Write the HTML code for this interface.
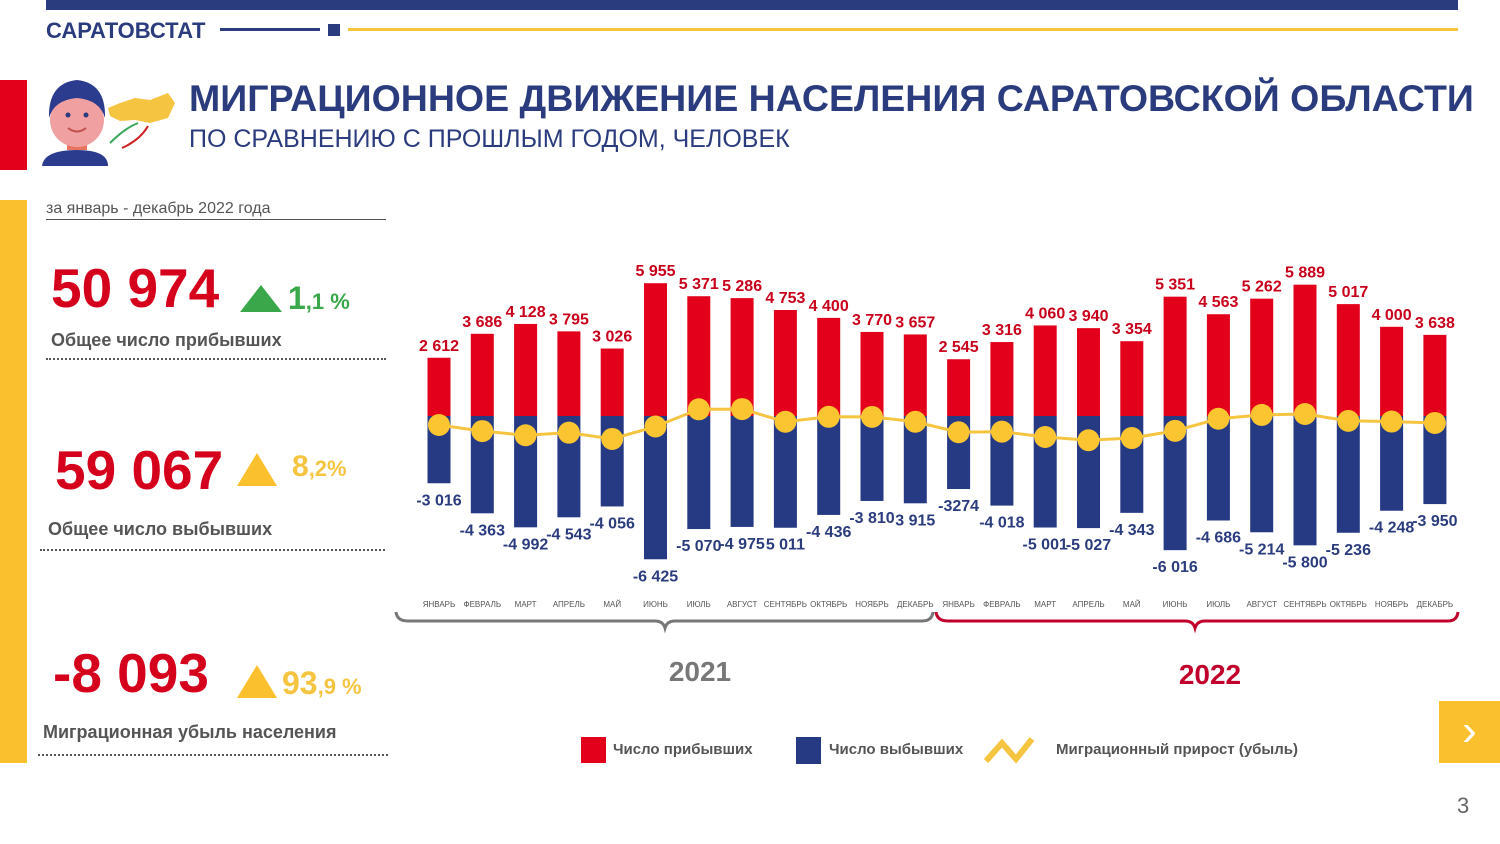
<!DOCTYPE html>
<html><head><meta charset="utf-8">
<style>
*{margin:0;padding:0;box-sizing:border-box}
body{width:1500px;height:844px;background:#fff;position:relative;overflow:hidden;font-family:"Liberation Sans","Noto Sans CJK SC",sans-serif}
.abs{position:absolute}
</style></head><body>
<div class="abs" style="left:46px;top:0;width:1412px;height:10px;background:#2b3c7e"></div>
<div class="abs" style="left:46px;top:18px;font-size:22px;font-weight:bold;color:#2b3c7e">САРАТОВСТАТ</div>
<div class="abs" style="left:220px;top:28px;width:100px;height:3px;background:#2b3c7e"></div>
<div class="abs" style="left:328px;top:24px;width:12px;height:12px;background:#2b3c7e"></div>
<div class="abs" style="left:348px;top:28px;width:1110px;height:3px;background:#f5c542"></div>
<div class="abs" style="left:0;top:80px;width:27px;height:90px;background:#e2001a"></div>
<svg class="abs" style="left:40px;top:78px" width="140" height="90" viewBox="0 0 140 90">
<rect x="27" y="60" width="20" height="12" fill="#e8735f"/>
<ellipse cx="37" cy="42" rx="27" ry="27" fill="#f0a0a0"/>
<path d="M9 40 Q8 5 37 2 Q66 5 65 40 Q60 22 37 20 Q14 22 9 40Z" fill="#2b3c8e"/>
<circle cx="28" cy="37" r="2.5" fill="#2b3c7e"/><circle cx="46" cy="37" r="2.5" fill="#2b3c7e"/>
<path d="M28 50 Q37 57 46 50" stroke="#c0504d" stroke-width="2" fill="none"/>
<path d="M2 88 Q4 72 37 72 Q68 72 68 88Z" fill="#2b3c8e"/>
<path d="M68 30 L80 25 L95 20 L110 22 L128 15 L135 25 L128 40 L110 45 L95 42 L80 43 L70 38Z" fill="#f5c542"/>
<path d="M70 65 Q85 50 98 45" stroke="#3aa85a" stroke-width="2" fill="none"/>
<path d="M108 48 Q100 62 82 70" stroke="#d02020" stroke-width="2" fill="none"/>
</svg>
<div class="abs" style="left:189px;top:77px;font-size:37.5px;font-weight:bold;color:#2b3c7e;white-space:nowrap">МИГРАЦИОННОЕ ДВИЖЕНИЕ НАСЕЛЕНИЯ САРАТОВСКОЙ ОБЛАСТИ</div>
<div class="abs" style="left:189px;top:125px;font-size:25px;color:#2b3c7e;white-space:nowrap">ПО СРАВНЕНИЮ С ПРОШЛЫМ ГОДОМ, ЧЕЛОВЕК</div>
<div class="abs" style="left:0;top:200px;width:27px;height:563px;background:#fbc02d"></div>
<div class="abs" style="left:46px;top:200px;width:340px;font-size:16px;color:#555;border-bottom:1.5px solid #555;padding-bottom:1px">за январь - декабрь 2022 года</div>

<div class="abs" style="left:51px;top:256px;font-size:55px;font-weight:bold;color:#d5001c">50 974</div>
<div class="abs" style="left:240px;top:285px;width:0;height:0;border-left:21px solid transparent;border-right:21px solid transparent;border-bottom:27px solid #3aa84a"></div>
<div class="abs" style="left:288px;top:280px;font-size:32px;font-weight:bold;color:#3aa84a">1<span style="font-size:22px">,1 %</span></div>
<div class="abs" style="left:51px;top:330px;font-size:18px;font-weight:bold;color:#555">Общее число прибывших</div>
<div class="abs" style="left:46px;top:358px;width:340px;border-top:2px dotted #555"></div>

<div class="abs" style="left:55px;top:438px;font-size:55px;font-weight:bold;color:#d5001c">59 067</div>
<div class="abs" style="left:237px;top:453px;width:0;height:0;border-left:20px solid transparent;border-right:20px solid transparent;border-bottom:33px solid #fbc02d"></div>
<div class="abs" style="left:292px;top:450px;font-size:30px;font-weight:bold;color:#f5c542">8<span style="font-size:22px">,2%</span></div>
<div class="abs" style="left:48px;top:519px;font-size:18px;font-weight:bold;color:#555">Общее число выбывших</div>
<div class="abs" style="left:40px;top:549px;width:345px;border-top:2px dotted #555"></div>

<div class="abs" style="left:53px;top:641px;font-size:55px;font-weight:bold;color:#d5001c">-8 093</div>
<div class="abs" style="left:237px;top:665px;width:0;height:0;border-left:20px solid transparent;border-right:20px solid transparent;border-bottom:33px solid #fbc02d"></div>
<div class="abs" style="left:282px;top:665px;font-size:32px;font-weight:bold;color:#f5c542">93<span style="font-size:22px">,9 %</span></div>
<div class="abs" style="left:43px;top:722px;font-size:18px;font-weight:bold;color:#555">Миграционная убыль населения</div>
<div class="abs" style="left:38px;top:754px;width:350px;border-top:2px dotted #555"></div>

<svg class="abs" id="chart" style="left:0;top:0" width="1500" height="844"></svg>

<div class="abs" style="left:581px;top:737px;width:25px;height:26px;background:#e2001a"></div>
<div class="abs" style="left:613px;top:741px;font-size:15px;font-weight:bold;color:#555">Число прибывших</div>
<div class="abs" style="left:796px;top:737px;width:25px;height:27px;background:#263a84"></div>
<div class="abs" style="left:829px;top:741px;font-size:15px;font-weight:bold;color:#555">Число выбывших</div>
<svg class="abs" style="left:982px;top:735px" width="70" height="30"><polyline points="4,26 20,8 34,24 50,4" stroke="#f5c542" stroke-width="6" fill="none"/></svg>
<div class="abs" style="left:1056px;top:741px;font-size:15px;font-weight:bold;color:#555">Миграционный прирост (убыль)</div>

<div class="abs" style="left:1439px;top:701px;width:61px;height:62px;background:#fbc02d;color:#fff;font-size:44px;text-align:center;line-height:60px;font-weight:100">&#x203A;</div>
<div class="abs" style="left:1457px;top:793px;font-size:22px;color:#666">3</div>

<script>
const months=["ЯНВАРЬ","ФЕВРАЛЬ","МАРТ","АПРЕЛЬ","МАЙ","ИЮНЬ","ИЮЛЬ","АВГУСТ","СЕНТЯБРЬ","ОКТЯБРЬ","НОЯБРЬ","ДЕКАБРЬ"];
const years=["2021","2022"];
const arrivals=[2612,3686,4128,3795,3026,5955,5371,5286,4753,4400,3770,3657,2545,3316,4060,3940,3354,5351,4563,5262,5889,5017,4000,3638];
const departures=[3016,4363,4992,4543,4056,6425,5070,4975,5011,4436,3810,3915,3274,4018,5001,5027,4343,6016,4686,5214,5800,5236,4248,3950];
const arrivalLabels=["2 612","3 686","4 128","3 795","3 026","5 955","5 371","5 286","4 753","4 400","3 770","3 657","2 545","3 316","4 060","3 940","3 354","5 351","4 563","5 262","5 889","5 017","4 000","3 638"];
const departureLabels=["-3 016","-4 363","-4 992","-4 543","-4 056","-6 425","-5 070","-4 975","5 011","-4 436","-3 810","3 915","-3274","-4 018","-5 001","-5 027","-4 343","-6 016","-4 686","-5 214","-5 800","-5 236","-4 248","-3 950"];

const NS="http://www.w3.org/2000/svg";
const svg=document.getElementById('chart');
const X0=439,STEP=43.3,BASE=416,K=0.0223,BW=23;
const xPos=i=>X0+STEP*i;
const yPos=v=>BASE-v*K;
function mk(tag,attrs){const e=document.createElementNS(NS,tag);for(const k in attrs)e.setAttribute(k,attrs[k]);svg.appendChild(e);return e;}
function txt(x,y,s,size,color,weight,anchor){const t=mk('text',{x:x,y:y,'font-size':size,fill:color,'font-weight':weight,'text-anchor':anchor||'middle','font-family':'Liberation Sans, sans-serif'});t.textContent=s;return t;}

arrivals.forEach((v,i)=>{
  const r=mk('rect',{x:xPos(i)-BW/2,y:yPos(v),width:BW,height:BASE-yPos(v),fill:'#e2001a'});
  
  
  const t=txt(xPos(i),yPos(v)-7,arrivalLabels[i],16,'#c8001a','bold');
  
  
});
departures.forEach((v,i)=>{
  const r=mk('rect',{x:xPos(i)-BW/2,y:BASE,width:BW,height:yPos(-v)-BASE,fill:'#263a84'});
  
  
  const t=txt(xPos(i),yPos(-v)+22,departureLabels[i],16,'#2b3c7e','bold');
  
  
});
const pts=arrivals.map((a,i)=>xPos(i)+','+yPos(a-departures[i])).join(' ');
const line=mk('polyline',{points:pts,stroke:'#f5c542','stroke-width':3,fill:'none'});


arrivals.forEach((a,i)=>{
  const c=mk('circle',{cx:xPos(i),cy:yPos(a-departures[i]),r:11,fill:'#fbc531'});
  
  
});
for(let i=0;i<24;i++){
  const t=txt(xPos(i),607,months[i%12],8,'#555','normal');
  
  
}
const b1=mk('path',{d:'M396 612 Q397 621 408 621 L655 621 Q663 621 665 628 Q667 621 675 621 L922 621 Q932 621 933 612',stroke:'#777','stroke-width':3,fill:'none'});


const b2=mk('path',{d:'M936 612 Q937 621 948 621 L1185 621 Q1193 621 1195 628 Q1197 621 1205 621 L1448 621 Q1457 621 1458 612',stroke:'#c0002a','stroke-width':3,fill:'none'});


const y1=txt(700,681,years[0],28,'#777','bold');


const y2=txt(1210,684,years[1],28,'#c0002a','bold');


</script>
</body></html>
